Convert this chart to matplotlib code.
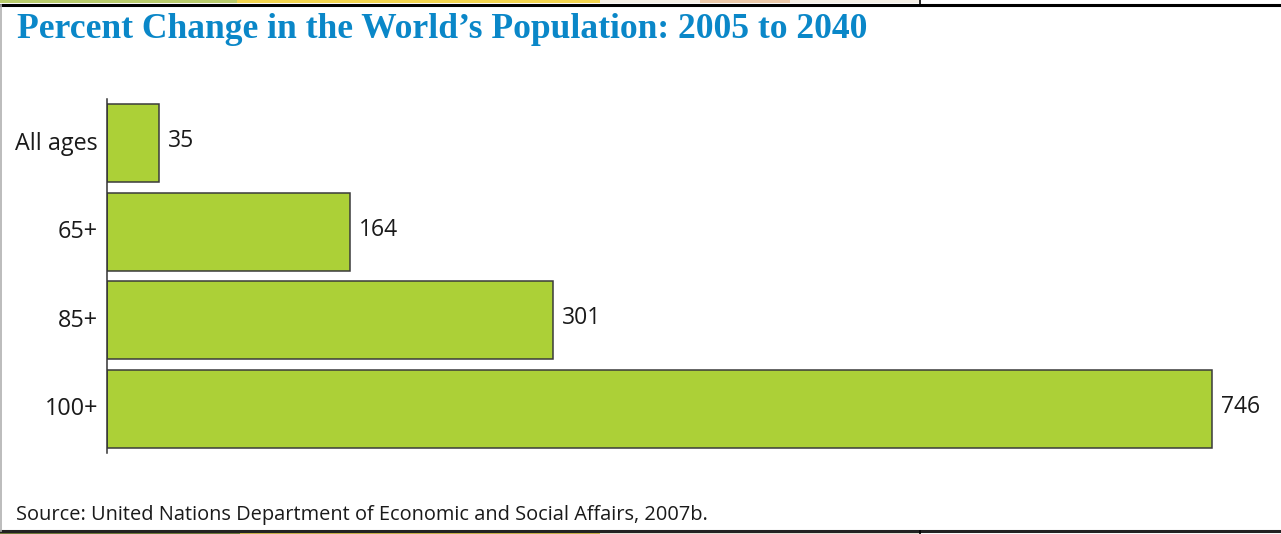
import matplotlib.pyplot as plt
import numpy as np
from matplotlib.patches import Rectangle
from matplotlib.lines import Line2D

# 数据
age_groups = ['All ages', '65+', '85+', '100+']
pct_change = [35, 164, 301, 746]

title_text = 'Percent Change in the World\u2019s Population: 2005 to 2040'
source_text = 'Source: United Nations Department of Economic and Social Affairs, 2007b.'

W, H = 1281, 534
fig = plt.figure(figsize=(W / 100, H / 100), dpi=100)
fig.patch.set_facecolor('white')

# 页面边框和上下残留的色条
for x0, x1, col in [(0, 237, '#b9cc6c'), (237, 600, '#f3d54e'), (600, 920, '#f4efe6'),
                    (700, 790, '#ecc9a8')]:
    fig.add_artist(Rectangle((x0 / W, 1 - 3 / H), (x1 - x0) / W, 3 / H,
                             transform=fig.transFigure, color=col, lw=0))
for x0, x1, col in [(0, 240, '#6f7a3a'), (240, 600, '#c9b24a'), (600, 920, '#e8e2d6')]:
    fig.add_artist(Rectangle((x0 / W, 0), (x1 - x0) / W, 2 / H,
                             transform=fig.transFigure, color=col, lw=0))
fig.add_artist(Line2D([0, 1], [1 - 4.5 / H, 1 - 4.5 / H], transform=fig.transFigure,
                      color='black', lw=2.2))
fig.add_artist(Line2D([0, 1], [3.2 / H, 3.2 / H], transform=fig.transFigure,
                      color='#222222', lw=2.2))
fig.add_artist(Line2D([920 / W, 920 / W], [1 - 4 / H, 1], transform=fig.transFigure,
                      color='black', lw=1.2))
fig.add_artist(Line2D([920 / W, 920 / W], [0, 3 / H], transform=fig.transFigure,
                      color='black', lw=1.2))
fig.add_artist(Line2D([0.6 / W, 0.6 / W], [3 / H, 1 - 5 / H], transform=fig.transFigure,
                      color='#b0b0b0', lw=1.2))

# 坐标轴
ax_left, ax_right = 107, 1270
ax_top, ax_bot = 99, 453
ax = fig.add_axes([ax_left / W, 1 - ax_bot / H, (ax_right - ax_left) / W, (ax_bot - ax_top) / H])

y = np.arange(len(age_groups))
ax.barh(y, pct_change, height=0.88, color='#acd037', edgecolor='#3a3a3a', linewidth=1.1)
ax.set_xlim(0, 785)
ax.set_ylim(len(age_groups) - 0.5, -0.5)

for yi, v in zip(y, pct_change):
    ax.text(v + 6, yi - 0.02, str(v), va='center', ha='left', fontsize=16.5,
            family='Open Sans', color='#1a1a1a')

ax.set_yticks(y - 0.03)
ax.set_yticklabels(age_groups, fontsize=16.8, family='Open Sans', color='#1a1a1a')
ax.tick_params(axis='y', length=0, pad=6.5)
ax.set_xticks([])
for s in ['top', 'right', 'bottom']:
    ax.spines[s].set_visible(False)
ax.spines['left'].set_color('#333333')
ax.spines['left'].set_linewidth(1.1)
ax.set_facecolor('none')

fig.text(17 / W, 1 - 38 / H, title_text, fontsize=25.6, fontweight='bold',
         family='Liberation Serif', color='#0a87c8', ha='left', va='baseline')
fig.text(16 / W, 1 - 520 / H, source_text, fontsize=14.4, family='Open Sans',
         color='#1a1a1a', ha='left', va='baseline')

fig.savefig('out.png', dpi=100)
